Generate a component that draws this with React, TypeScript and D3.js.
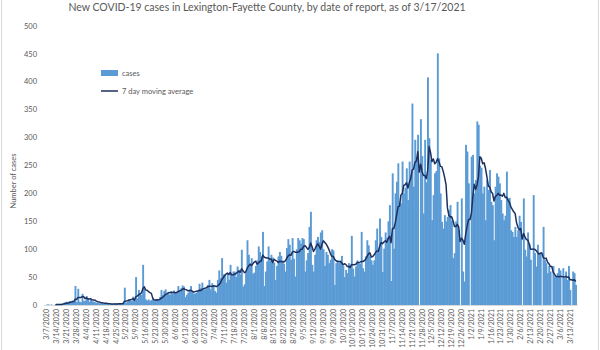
import React, { useEffect, useRef } from "react";
import * as d3 from "d3";

// daily new cases by date of report
const mar2020 = [1, 1, 0, 1, 0, 0, 1, 2, 1, 2, 1, 3, 4, 5, 6, 5, 7, 6, 8, 6, 34, 5, 29, 6, 5];
const apr2020 = [20, 7, 8, 16, 12, 6, 9, 7, 6, 5, 4, 4, 3, 4, 3, 2, 3, 2, 2, 1, 2, 2, 1, 3, 3, 2, 3, 2, 3, 4];
const may2020 = [31, 4, 6, 10, 8, 7, 15, 9, 50, 12, 27, 20, 18, 72, 30, 10, 8, 10, 7, 9, 12, 7, 9, 11, 8, 14, 27, 18, 25, 28, 20];
const jun2020 = [22, 18, 25, 20, 26, 22, 24, 34, 26, 30, 35, 33, 14, 18, 22, 28, 34, 25, 20, 21, 22, 25, 38, 30, 40, 27, 28, 30, 36, 45];
const jul2020 = [28, 39, 35, 25, 22, 45, 62, 48, 84, 55, 55, 40, 56, 45, 72, 52, 60, 60, 50, 69, 63, 55, 99, 33, 37, 60, 116, 90, 75, 84, 56];
const aug2020 = [58, 70, 80, 105, 95, 87, 131, 34, 60, 78, 105, 80, 90, 85, 76, 45, 70, 87, 95, 88, 80, 74, 60, 102, 118, 108, 81, 120, 83, 51, 100];
const sep2020 = [120, 116, 110, 120, 118, 60, 80, 93, 140, 167, 72, 60, 90, 116, 122, 113, 130, 134, 100, 70, 95, 90, 75, 81, 100, 98, 36, 75, 80, 75];
const oct2020 = [80, 88, 70, 50, 63, 57, 75, 70, 124, 65, 51, 69, 80, 75, 74, 131, 66, 60, 87, 116, 107, 87, 80, 72, 80, 116, 137, 101, 155, 122, 59];
const nov2020 = [101, 130, 120, 150, 179, 43, 236, 101, 200, 221, 254, 185, 182, 257, 200, 210, 245, 188, 257, 233, 361, 212, 296, 260, 305, 0, 333, 267, 164, 296];
const dec2020 = [220, 408, 299, 260, 152, 197, 236, 240, 451, 263, 200, 149, 137, 161, 150, 158, 170, 179, 151, 84, 93, 150, 185, 134, 0, 191, 60, 42, 287, 275, 218];
const jan2021 = [0, 266, 269, 200, 224, 329, 323, 250, 246, 200, 212, 152, 224, 206, 242, 185, 179, 116, 212, 236, 230, 218, 188, 164, 152, 160, 239, 191, 192, 134, 131];
const feb2021 = [122, 140, 122, 134, 160, 149, 0, 191, 99, 87, 130, 110, 81, 0, 197, 93, 69, 108, 90, 94, 0, 140, 81, 75, 57, 70, 60, 0];
const mar2021 = [70, 51, 51, 57, 66, 62, 0, 66, 48, 60, 45, 70, 27, 0, 60, 57, 36];

const cases = [
  ...mar2020, ...apr2020, ...may2020, ...jun2020, ...jul2020, ...aug2020,
  ...sep2020, ...oct2020, ...nov2020, ...dec2020, ...jan2021, ...feb2021, ...mar2021,
];
const startDate = new Date(2020, 2, 7);
const yTicks = [0, 50, 100, 150, 200, 250, 300, 350, 400, 450, 500];

const FONT = "Lato, 'Open Sans', sans-serif";
const GREY = "#595959";
const BAR = "#5b9bd5";
const LINE = "#1f2f5e";

export default function App() {
  const ref = useRef<SVGSVGElement>(null);

  useEffect(() => {
    const svg = d3.select(ref.current);
    svg.selectAll("*").remove();

    const data = cases.map((v, i) => ({ i, date: d3.timeDay.offset(startDate, i), v }));

    // trailing 7 day moving average, like the Excel trendline
    const ma = data
      .filter((d) => d.i >= 6)
      .map((d) => ({ i: d.i, v: d3.mean(cases.slice(d.i - 6, d.i + 1)) as number }));

    const x = d3
      .scaleBand<number>()
      .domain(data.map((d) => d.i))
      .range([46.3, 46.3 + cases.length * 1.41])
      .padding(0);
    const y = d3.scaleLinear().domain([0, 500]).range([305, 26]);

    // chart frame
    svg
      .append("rect")
      .attr("x", 1.5)
      .attr("y", -2)
      .attr("width", 597)
      .attr("height", 354)
      .attr("fill", "#fff")
      .attr("stroke", "#d9d9d9");

    // title
    svg
      .append("text")
      .attr("x", 267)
      .attr("y", 11)
      .attr("text-anchor", "middle")
      .style("font-family", FONT)
      .style("font-size", "10.5px")
      .attr("fill", GREY)
      .text("New COVID-19 cases in Lexington-Fayette County, by date of report, as of 3/17/2021");

    // y axis labels
    svg
      .append("g")
      .selectAll("text")
      .data(yTicks)
      .enter()
      .append("text")
      .attr("x", 37)
      .attr("y", (d) => y(d))
      .attr("dy", "0.35em")
      .attr("text-anchor", "end")
      .style("font-family", FONT)
      .style("font-size", "7.5px")
      .attr("fill", GREY)
      .text((d) => d);

    svg
      .append("text")
      .attr("transform", `translate(13,181) rotate(-90)`)
      .attr("text-anchor", "middle")
      .attr("dy", "0.35em")
      .style("font-family", FONT)
      .style("font-size", "7.5px")
      .attr("fill", GREY)
      .text("Number of cases");

    // bars (slightly overlapping so no seams show between neighbours)
    svg
      .append("g")
      .selectAll("rect")
      .data(data.filter((d) => d.v > 0))
      .enter()
      .append("rect")
      .attr("x", (d) => x(d.i) as number)
      .attr("width", x.bandwidth() + 0.5)
      .attr("y", (d) => y(d.v))
      .attr("height", (d) => y(0) - y(d.v))
      .attr("fill", BAR);

    // baseline
    svg
      .append("line")
      .attr("x1", 44)
      .attr("x2", 578)
      .attr("y1", y(0) + 0.5)
      .attr("y2", y(0) + 0.5)
      .attr("stroke", "#d9d9d9");

    // moving average
    const line = d3
      .line<{ i: number; v: number }>()
      .x((d) => (x(d.i) as number) + x.bandwidth() / 2)
      .y((d) => y(d.v));
    svg
      .append("path")
      .datum(ma)
      .attr("d", line)
      .attr("fill", "none")
      .attr("stroke", LINE)
      .attr("stroke-width", 1.5)
      .attr("stroke-linejoin", "round");

    // x axis labels, weekly
    const fmt = d3.timeFormat("%-m/%-d/%Y");
    const weekly = data.filter((d) => d.i % 7 === 0);
    svg
      .append("g")
      .selectAll("text")
      .data(weekly)
      .enter()
      .append("text")
      .attr("transform", (d) => `translate(${(x(d.i) as number) + x.bandwidth() / 2},309) rotate(-90)`)
      .attr("text-anchor", "end")
      .attr("dy", "0.35em")
      .style("font-family", FONT)
      .style("font-size", "7px")
      .attr("fill", GREY)
      .text((d) => fmt(d.date));

    // legend
    const legend = svg.append("g");
    legend.append("rect").attr("x", 101).attr("y", 70).attr("width", 17).attr("height", 6).attr("fill", BAR);
    legend
      .append("text")
      .attr("x", 122)
      .attr("y", 73)
      .attr("dy", "0.35em")
      .style("font-family", FONT)
      .style("font-size", "7.5px")
      .attr("fill", GREY)
      .text("cases");
    legend
      .append("line")
      .attr("x1", 101)
      .attr("x2", 118)
      .attr("y1", 91)
      .attr("y2", 91)
      .attr("stroke", LINE)
      .attr("stroke-width", 1.5);
    legend
      .append("text")
      .attr("x", 122)
      .attr("y", 91)
      .attr("dy", "0.35em")
      .style("font-family", FONT)
      .style("font-size", "7.5px")
      .attr("fill", GREY)
      .text("7 day moving average");
  }, []);

  return (
    <svg
      ref={ref}
      width={600}
      height={350}
      style={{ position: "absolute", left: 0, top: 0, display: "block", background: "#fff" }}
    />
  );
}
